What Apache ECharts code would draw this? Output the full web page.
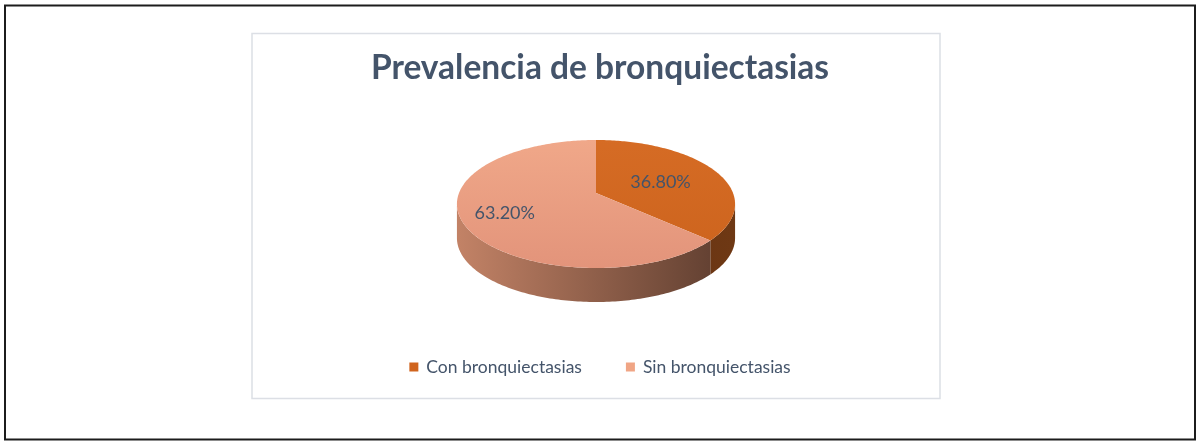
<!DOCTYPE html>
<html>
<head>
<meta charset="utf-8">
<script src="https://cdn.jsdelivr.net/npm/echarts@6/dist/echarts.min.js"></script>
<style>
html, body { margin: 0; padding: 0; background: #fff; }
#chart { width: 1200px; height: 445px; }
</style>
</head>
<body>
<div id="chart"></div>
<script>
// datos del grafico
var titulo = 'Prevalencia de bronquiectasias';
var categorias = ['Con bronquiectasias', 'Sin bronquiectasias'];
var valores = [36.8, 63.2];
var etiquetas = ['36.80%', '63.20%'];

// colores (cara superior, lateral, leyenda)
var coloresLeyenda = ['#D0641E', '#F0A585'];
var coloresTop = [['#D66C25', '#CC631D'], ['#F1A98A', '#E2937A']];
var coloresLado = [['#5A2B0C', '#6E3814'], ['#C28266', '#5C3C2E']];

// pastel en perspectiva
var P = { cx: 596, cy: 193, A: 137, K: 62.1, p: 0.172, depth: 34 };

function proj(ang, r) {
    var t = ang * Math.PI / 180;
    var u = Math.sin(t) * r, v = -Math.cos(t) * r;
    var d = 1 - P.p * v;
    return [P.cx + P.A * u / d, P.cy + P.K * v / d];
}

function rim(a0, a1, dy) {
    var pts = [];
    var n = Math.max(2, Math.ceil(Math.abs(a1 - a0)));
    for (var i = 0; i <= n; i++) {
        var pt = proj(a0 + (a1 - a0) * i / n, 1);
        pts.push([pt[0], pt[1] + (dy || 0)]);
    }
    return pts;
}

function grad(x, y, x2, y2, c) {
    return { type: 'linear', x: x, y: y, x2: x2, y2: y2, global: true,
        colorStops: [{ offset: 0, color: c[0] }, { offset: 1, color: c[1] }] };
}

var total = valores.reduce(function (a, b) { return a + b; }, 0);

function makeRender(idx) {
    return function (params, api) {
        var ini = 0;
        for (var i = 0; i < idx; i++) ini += valores[i];
        var a0 = ini / total * 360;
        var a1 = (ini + api.value(0)) / total * 360;
        var children = [];

        // lateral visible (parte delantera)
        var lim = Math.acos(-P.p) * 180 / Math.PI;
        var s0 = Math.max(a0, lim), s1 = Math.min(a1, 360 - lim);
        if (s1 > s0) {
            var top = rim(s0, s1, 0);
            var bot = rim(s0, s1, P.depth).reverse();
            children.push({
                type: 'polygon', z2: 1,
                shape: { points: top.concat(bot) },
                style: { fill: grad(P.cx - P.A, 0, P.cx + P.A, 0, coloresLado[idx]) }
            });
        }

        // cara superior
        var pts = [proj(0, 0)].concat(rim(a0, a1, 0));
        children.push({
            type: 'polygon', z2: 10,
            shape: { points: pts },
            style: { fill: grad(0, P.cy - P.K, 0, P.cy + 80, coloresTop[idx]) }
        });

        // etiqueta
        var pos = proj((a0 + a1) / 2, 0.62);
        children.push({
            type: 'text', z2: 20,
            x: pos[0] - 10, y: pos[1] + 4,
            style: { text: etiquetas[idx], fill: '#44546A', font: '18px Lato',
                align: 'center', verticalAlign: 'middle' }
        });
        return { type: 'group', children: children };
    };
}

var chart = echarts.init(document.getElementById('chart'));
var series = categorias.map(function (nombre, i) {
    return {
        name: nombre,
        type: 'custom',
        coordinateSystem: 'none',
        itemStyle: { color: coloresLeyenda[i] },
        data: [[valores[i]]],
        renderItem: makeRender(i)
    };
});

var option = {
    animation: false,
    title: {
        text: titulo,
        left: 'center',
        top: 46,
        textStyle: { fontFamily: 'Lato', fontWeight: 'bold', fontSize: 33.5, color: '#44546A' }
    },
    legend: {
        data: categorias,
        bottom: 64,
        left: 'center',
        icon: 'rect',
        itemWidth: 9,
        itemHeight: 9,
        itemGap: 44,
        selectedMode: false,
        textStyle: { fontFamily: 'Lato', fontSize: 17.5, color: '#44546A', padding: [0, 0, 0, 3] }
    },
    graphic: [
        { type: 'rect', shape: { x: 5, y: 5.5, width: 1190, height: 434 },
          style: { fill: null, stroke: '#1c1c1c', lineWidth: 2 } },
        { type: 'rect', shape: { x: 252, y: 33.5, width: 688, height: 365 },
          style: { fill: null, stroke: '#DCDFE5', lineWidth: 1.5 } }
    ],
    series: series
};
chart.setOption(option);
</script>
</body>
</html>
